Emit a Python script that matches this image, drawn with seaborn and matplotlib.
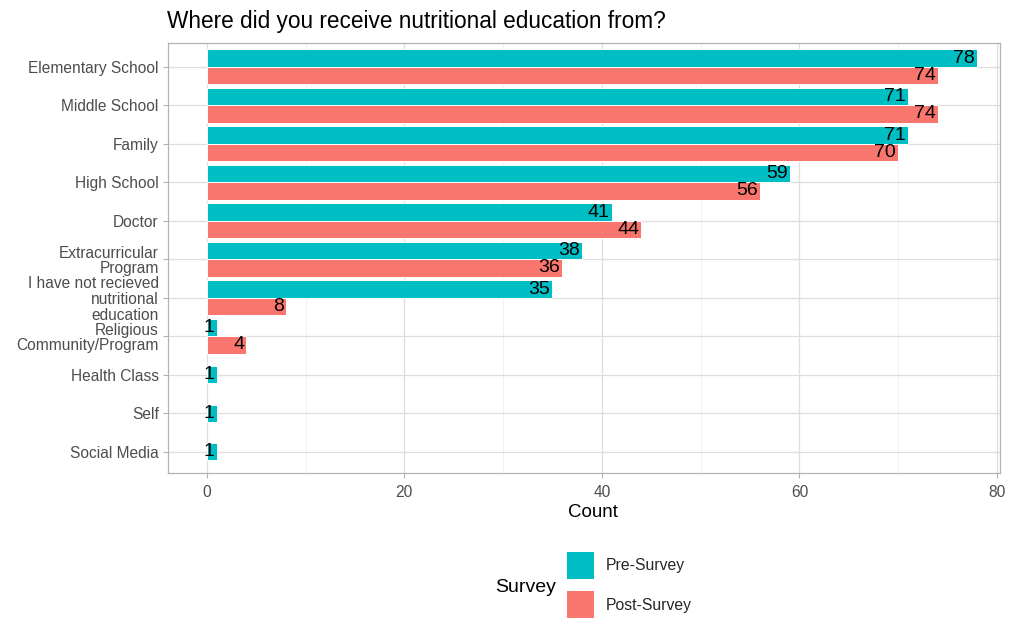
import matplotlib
matplotlib.use("Agg")
import matplotlib.pyplot as plt
from matplotlib.patches import Patch
from matplotlib.ticker import MultipleLocator
from collections import defaultdict
import seaborn as sns
import pandas as pd

categories = ["Elementary School", "Middle School", "Family", "High School", "Doctor",
              "Extracurricular\nProgram", "I have not recieved\nnutritional\neducation",
              "Religious\nCommunity/Program", "Health Class", "Self", "Social Media"]
pre_counts = [78, 71, 71, 59, 41, 38, 35, 1, 1, 1, 1]
post_counts = [74, 74, 70, 56, 44, 36, 8, 4, None, None, None]
survey_levels = ["Pre-Survey", "Post-Survey"]
colors = ["#00BFC4", "#F8766D"]
x_ticks = [0, 20, 40, 60, 80]

rows = []
for c, a, b in zip(categories, pre_counts, post_counts):
    if a is not None:
        rows.append({"Source": c, "Survey": "Pre-Survey", "Count": a})
    if b is not None:
        rows.append({"Source": c, "Survey": "Post-Survey", "Count": b})
df = pd.DataFrame(rows)

sns.set_theme(style="white")
plt.rcParams["font.family"] = ["Liberation Sans", "DejaVu Sans"]

W, H = 1017, 637
fig = plt.figure(figsize=(W / 100, H / 100), dpi=100)
fig.patch.set_facecolor("white")
ax = fig.add_axes([167.7 / W, 1 - 473 / H, (1000 - 167.7) / W, (473 - 43) / H])

sns.barplot(data=df, y="Source", x="Count", hue="Survey", order=categories,
            hue_order=survey_levels, palette=colors, saturation=1, width=0.9,
            dodge=True, orient="y", legend=False, ax=ax, zorder=3,
            edgecolor="white", linewidth=0.7)

# center single bars (only one survey present) on their category, like dodge2(preserve="single")
groups = defaultdict(list)
for p in ax.patches:
    w = p.get_width()
    if w != w or w == 0:
        continue
    cy = p.get_y() + p.get_height() / 2
    groups[int(round(cy))].append(p)
for idx, plist in groups.items():
    if len(plist) == 1:
        p = plist[0]
        p.set_y(idx - p.get_height() / 2)

# value labels at the bar ends
for idx, plist in groups.items():
    for p in plist:
        w = p.get_width()
        cy = p.get_y() + p.get_height() / 2
        ax.annotate(f"{int(w)}", xy=(w, cy), xytext=(-1.5, 0), textcoords="offset points",
                    ha="right", va="center", fontsize=14, color="black", zorder=5)

ax.set_xlim(-3.95, 80.3)
ax.set_ylim(len(categories) - 1 + 0.55, -0.615)
ax.set_xticks(x_ticks)
ax.xaxis.set_minor_locator(MultipleLocator(10))
ax.set_xlabel("")
ax.set_ylabel("")

ax.grid(True, which="major", axis="both", color="#DEDEDE", linewidth=0.9, zorder=0)
ax.grid(True, which="minor", axis="x", color="#EBEBEB", linewidth=0.5, zorder=0)
ax.set_axisbelow(True)
for s in ax.spines.values():
    s.set_visible(True)
    s.set_color("#B3B3B3")
    s.set_linewidth(0.9)

ax.tick_params(axis="both", which="major", length=3.5, width=0.8, color="#B3B3B3",
               labelcolor="#4D4D4D", labelsize=11.2, pad=3)
ax.tick_params(axis="x", which="major", pad=5)
ax.tick_params(axis="x", which="minor", length=0)
ax.tick_params(left=True, bottom=True)
for t in ax.get_yticklabels():
    t.set_linespacing(1.05)
    t.set_multialignment("right")

fig.text(167 / W, 1 - 28 / H, "Where did you receive nutritional education from?",
         fontsize=16.3, color="black", ha="left", va="baseline")
fig.text(593 / W, 1 - 517 / H, "Count", fontsize=13.5, color="black",
         ha="center", va="baseline")

fig.text(495 / W, 1 - 587 / H, "Survey", fontsize=14, color="black",
         ha="left", va="center")
handles = [Patch(facecolor=c, edgecolor="none") for c in colors]
fig.legend(handles, survey_levels, loc="upper left", bbox_to_anchor=(567 / W, 1 - 552 / H),
           frameon=False, fontsize=11.3, handlelength=1.75, handleheight=2.27,
           labelspacing=0.78, handletextpad=0.7, borderpad=0, borderaxespad=0)

fig.savefig("out.png", dpi=100, facecolor="white")
